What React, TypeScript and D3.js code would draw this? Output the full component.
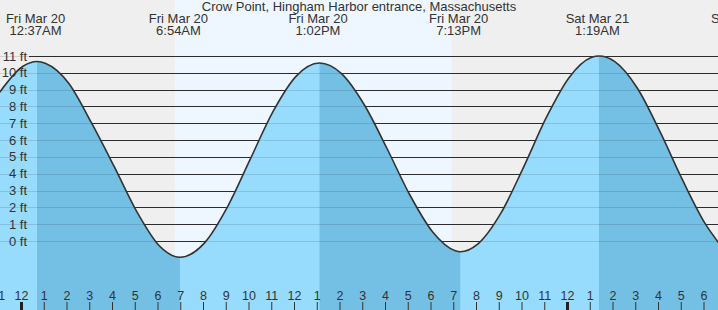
import React from "react";
import * as d3 from "d3";

// ---- data ----
const title = "Crow Point, Hingham Harbor entrance, Massachusetts";
// hours measured from midnight, Fri Mar 20
const extremeDays = ["Fri Mar 20", "Fri Mar 20", "Fri Mar 20", "Fri Mar 20", "Sat Mar 21", "Sat Mar 21"];
const extremeClock = ["12:37AM", "6:54AM", "1:02PM", "7:13PM", "1:19AM", "7:42AM"];
const extremeHours = [0.617, 6.9, 13.033, 19.217, 25.317, 31.7];
const extremeHeights = [10.67, -0.97, 10.58, -0.64, 11.0, -1.0];
const extremeType = ["H", "L", "H", "L", "H", "L"];

// heights, roughly hourly (ft)
const sampleHours = [-1.02, 0, 1, 2, 3, 4, 5, 6, 8, 9, 10, 11, 12, 14, 15, 16, 17, 18, 19, 20, 21, 22, 23, 24, 25, 26, 27, 28, 29, 30, 30.6];
const sampleHeights = [8.85, 10.39, 10.56, 9.4, 7.05, 4.45, 1.75, -0.3, -0.08, 2.06, 4.9, 7.72, 9.79, 9.95, 8.1, 5.5, 2.75, 0.55, -0.58, -0.17, 1.64, 4.38, 7.33, 9.71, 10.92, 10.68, 9.1, 6.5, 3.6, 1.0, -0.15];

const sunriseHour = 6.68;
const sunsetHour = 18.84;

const yTicks = [0, 1, 2, 3, 4, 5, 6, 7, 8, 9, 10, 11];
const hourTicks = d3.range(-1, 31);

const W = 718;
const H = 310;

export default function App() {
  const x = d3.scaleLinear().domain([-23 / 22.75, (W - 23) / 22.75]).range([0, W]);
  const y = d3.scaleLinear().domain([0, 11]).range([241, 56]);
  const shift = -1.5;

  const pts = sampleHours
    .map((t, i) => ({ t, h: sampleHeights[i] }))
    .concat(extremeHours.map((t, i) => ({ t, h: extremeHeights[i] })).filter((p) => p.t <= 30.6))
    .sort((a, b) => a.t - b.t);

  const line = d3.line<{ t: number; h: number }>().x((d) => x(d.t)).y((d) => y(d.h)).curve(d3.curveMonotoneX);
  const area = d3.area<{ t: number; h: number }>().x((d) => x(d.t)).y0(H).y1((d) => y(d.h)).curve(d3.curveMonotoneX);

  // falling intervals: high -> next low
  const falling: [number, number][] = [];
  extremeType.forEach((k, i) => {
    if (k === "H" && i + 1 < extremeHours.length) falling.push([extremeHours[i], extremeHours[i + 1]]);
  });

  const font = "'Liberation Sans', Arial, sans-serif";
  const txt = "#333";
  const fs = 13;

  return (
    <svg width={W} height={H} style={{ position: "absolute", left: 0, top: 0, display: "block" }} fontFamily={font}>
      <defs>
        <clipPath id="fallClip">
          {falling.map(([a, b], i) => (
            <rect key={i} x={x(a)} y={0} width={x(b) - x(a)} height={H} />
          ))}
        </clipPath>
      </defs>
      {/* night / day */}
      <rect x={0} y={0} width={W} height={H} fill="#efefef" />
      <rect x={x(sunriseHour)} y={0} width={x(sunsetHour) - x(sunriseHour)} height={H} fill="#eef6ff" />
      {/* grid */}
      {yTicks.map((v) => (
        <line key={v} x1={29} x2={W} y1={Math.round(y(v)) + 0.5} y2={Math.round(y(v)) + 0.5} stroke="#333" strokeWidth={1} />
      ))}
      {/* fills */}
      <path d={area(pts) || ""} fill="#97dbfd" />
      <path d={area(pts) || ""} fill="#74c0e4" clipPath="url(#fallClip)" />
      {/* grid inside the water */}
      {yTicks.map((v) => (
        <line key={"g" + v} x1={0} x2={W} y1={Math.round(y(v)) + 0.5} y2={Math.round(y(v)) + 0.5} stroke="#000" strokeOpacity={0.12} strokeWidth={1} />
      ))}
      <path d={line(pts) || ""} fill="none" stroke="#333" strokeWidth={1.6} />
      {/* y labels */}
      {yTicks.map((v) => (
        <text key={"l" + v} x={27} y={y(v)} dy="0.35em" textAnchor="end" fontSize={fs} fill={txt}>
          {v} ft
        </text>
      ))}
      {/* title */}
      <text x={W / 2} y={11} textAnchor="middle" fontSize={fs} fill={txt}>
        {title}
      </text>
      {/* extreme labels */}
      {extremeHours.map((t, i) => (
        <g key={"e" + i}>
          <text x={x(t) + shift} y={23} textAnchor="middle" fontSize={fs} fill={txt}>
            {extremeDays[i]}
          </text>
          <text x={x(t) + shift} y={35} textAnchor="middle" fontSize={fs} fill={txt}>
            {extremeClock[i]}
          </text>
        </g>
      ))}
      {/* hour ticks */}
      {hourTicks.map((h) => {
        const hh = ((h % 12) + 12) % 12 || 12;
        const midnight = ((h % 24) + 24) % 24 === 0;
        const xp = x(h) + shift;
        return (
          <g key={"h" + h}>
            <text x={xp} y={300} textAnchor="middle" fontSize={12.5} fill={txt}>
              {hh}
            </text>
            <line x1={xp} x2={xp} y1={302} y2={H} stroke={midnight ? "#222" : "#333"} strokeWidth={midnight ? 3 : 1} />
          </g>
        );
      })}
    </svg>
  );
}
